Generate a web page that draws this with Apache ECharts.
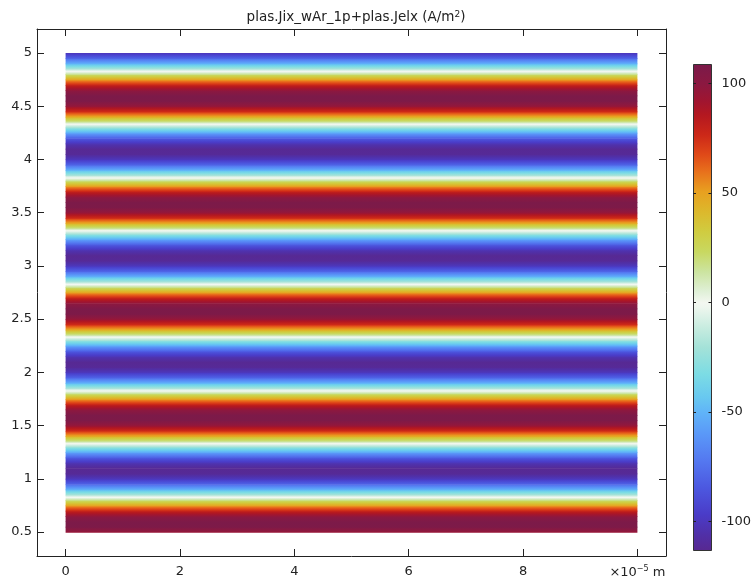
<!DOCTYPE html>
<html><head><meta charset="utf-8">
<script src="https://cdn.jsdelivr.net/npm/echarts@6/dist/echarts.min.js"></script>
<style>html,body{margin:0;padding:0;background:#fff}#c{width:754px;height:579px}</style>
</head><body><div id="c"></div>
<script>
// ---- data ----
const titleText = 'plas.Jix_wAr_1p+plas.Jelx (A/m{sup|2})';
const xTicks = [0, 2, 4, 6, 8, 10];
const yTicks = [0.5, 1, 1.5, 2, 2.5, 3, 3.5, 4, 4.5, 5];
const colorbarTicks = [-100, -50, 0, 50, 100];
const xExtent = [0, 10];            // domain width (x10^-5 m)
const xAxisRange = [-0.5, 10.5];
const yAxisRange = [0.275, 5.225];
const colorRange = [-113.1, 108.8]; // colour-bar limits (A/m^2)
const xUnitLabel = '\u00D710{sup|\u22125} m';

// sample heights along y (field is uniform along x)
const sampleY = [
  0.5, 0.55, 0.6, 0.65, 0.7, 0.75, 0.8, 0.85, 0.9, 0.95,
  1, 1.05, 1.1, 1.15, 1.2, 1.25, 1.3, 1.35, 1.4, 1.45,
  1.5, 1.55, 1.6, 1.65, 1.7, 1.75, 1.8, 1.85, 1.9, 1.95,
  2, 2.05, 2.1, 2.15, 2.2, 2.25, 2.3, 2.35, 2.4, 2.45,
  2.5, 2.55, 2.6, 2.65, 2.7, 2.75, 2.8, 2.85, 2.9, 2.95,
  3, 3.05, 3.1, 3.15, 3.2, 3.25, 3.3, 3.35, 3.4, 3.45,
  3.5, 3.55, 3.6, 3.65, 3.7, 3.75, 3.8, 3.85, 3.9, 3.95,
  4, 4.05, 4.1, 4.15, 4.2, 4.25, 4.3, 4.35, 4.4, 4.45,
  4.5, 4.55, 4.6, 4.65, 4.7, 4.75, 4.8, 4.85, 4.9, 4.95,
  5
];
// current density at each sample height (A/m^2)
const currentDensity = [
  95, 107, 108, 98, 79, 51, 19, -16, -49, -78,
  -99, -111, -112, -102, -83, -55, -23, 12, 45, 74,
  95, 107, 108, 98, 79, 51, 19, -16, -49, -78,
  -99, -111, -112, -102, -83, -55, -23, 12, 45, 74,
  95, 107, 108, 98, 79, 51, 19, -16, -49, -78,
  -99, -111, -112, -102, -83, -55, -23, 12, 45, 74,
  95, 107, 108, 98, 79, 51, 19, -16, -49, -78,
  -99, -111, -112, -102, -83, -55, -23, 12, 45, 74,
  95, 107, 108, 98, 79, 51, 19, -16, -49, -78,
  -101
];

// ---- colour map (value -> colour) ----
const cmapValues = [-113.1, -105.5, -96.4, -84.2, -72, -59.8, -49.9, -43.1, -32.4, -20.3, -11.1, -2, 0,
  5, 14.1, 23.3, 32.4, 41.5, 50.7, 59.8, 67.4, 76.5, 85.6, 91.9, 99.4, 108.8];
const cmapColors = ['#582890', '#5030a8', '#4a3cc8', '#4c58e0', '#5478f0', '#5a98f8', '#60b4f8', '#68c8f0', '#7cdce4', '#a4e2d8', '#c8ece0', '#eef6ee', '#f3f7f0',
  '#e0f0d8', '#cce4a0', '#c8d860', '#d0cc40', '#dcb82c', '#e8a020', '#e8701c', '#e04a18', '#cc2818', '#b41820', '#a01530', '#8c1840', '#7a1a4a'];

function hexToRgb(h) { return [parseInt(h.slice(1,3),16), parseInt(h.slice(3,5),16), parseInt(h.slice(5,7),16)]; }
const cmapRgb = cmapColors.map(hexToRgb);
function colorAt(v) {
  if (v <= cmapValues[0]) return cmapColors[0];
  const n = cmapValues.length;
  if (v >= cmapValues[n-1]) return cmapColors[n-1];
  for (let i = 0; i < n - 1; i++) {
    if (v >= cmapValues[i] && v <= cmapValues[i+1]) {
      const t = (v - cmapValues[i]) / (cmapValues[i+1] - cmapValues[i]);
      const a = cmapRgb[i], b = cmapRgb[i+1];
      return 'rgb(' + a.map((c, k) => Math.round(c + (b[k] - c) * t)).join(',') + ')';
    }
  }
  return cmapColors[n-1];
}
// vertical gradient from vTop (offset 0) to vBottom (offset 1)
function gradientBetween(vTop, vBottom) {
  const stops = [{offset: 0, color: colorAt(vTop)}];
  if (vTop !== vBottom) {
    const lo = Math.min(vTop, vBottom), hi = Math.max(vTop, vBottom);
    const mids = [];
    cmapValues.forEach(s => { if (s > lo && s < hi) mids.push({offset: (vTop - s) / (vTop - vBottom), color: colorAt(s)}); });
    mids.sort((a, b) => a.offset - b.offset);
    stops.push(...mids);
  }
  stops.push({offset: 1, color: colorAt(vBottom)});
  return {type: 'linear', x: 0, y: 0, x2: 0, y2: 1, colorStops: stops};
}

const bandData = [];
for (let i = 0; i < sampleY.length - 1; i++) {
  bandData.push([xExtent[0], sampleY[i], sampleY[i+1], currentDensity[i], currentDensity[i+1]]);
}

const FONT = 'DejaVu Sans';
const AXC = '#222';
const txt = {color: '#222', fontFamily: FONT, fontSize: 13};

const chart = echarts.init(document.getElementById('c'));
chart.setOption({
  animation: false,
  backgroundColor: '#fff',
  title: {
    text: titleText, left: 351, top: 5, textAlign: 'center',
    textStyle: {fontFamily: FONT, fontSize: 13.5, fontWeight: 'normal', color: '#222',
      rich: {sup: {fontFamily: FONT, fontSize: 9, color: '#222', verticalAlign: 'top', padding: [0, 0, 6, 0]}}}
  },
  grid: [
    {left: 37, top: 29, width: 629, height: 527, containLabel: false},
    {left: 693, top: 64, width: 20, height: 486, containLabel: false}
  ],
  xAxis: [
    {gridIndex: 0, type: 'value', position: 'bottom', min: xAxisRange[0], max: xAxisRange[1],
      axisLine: {show: true, onZero: false, lineStyle: {color: AXC, width: 1}},
      axisTick: {show: true, inside: true, length: 7, customValues: xTicks, lineStyle: {color: AXC}},
      axisLabel: {show: true, margin: 9, customValues: xTicks, ...txt,
        formatter: v => (v === 10 ? xUnitLabel : String(v)),
        rich: {sup: {fontSize: 8, fontFamily: FONT, color: '#222', verticalAlign: 'top', padding: [0, 0, 7, 0]}}},
      splitLine: {show: false}},
    {gridIndex: 0, type: 'value', position: 'top', min: xAxisRange[0], max: xAxisRange[1],
      axisLine: {show: true, onZero: false, lineStyle: {color: AXC, width: 1}},
      axisTick: {show: true, inside: true, length: 7, customValues: xTicks, lineStyle: {color: AXC}},
      axisLabel: {show: false}, splitLine: {show: false}},
    {gridIndex: 1, type: 'value', min: 0, max: 1, show: false}
  ],
  yAxis: [
    {gridIndex: 0, type: 'value', position: 'left', min: yAxisRange[0], max: yAxisRange[1],
      axisLine: {show: true, onZero: false, lineStyle: {color: AXC, width: 1}},
      axisTick: {show: true, inside: true, length: 7, customValues: yTicks, lineStyle: {color: AXC}},
      axisLabel: {show: true, margin: 5, customValues: yTicks, ...txt},
      splitLine: {show: false}},
    {gridIndex: 0, type: 'value', position: 'right', min: yAxisRange[0], max: yAxisRange[1],
      axisLine: {show: true, onZero: false, lineStyle: {color: AXC, width: 1}},
      axisTick: {show: true, inside: true, length: 7, customValues: yTicks, lineStyle: {color: AXC}},
      axisLabel: {show: false}, splitLine: {show: false}},
    {gridIndex: 1, type: 'value', position: 'left', min: colorRange[0], max: colorRange[1],
      axisLine: {show: false},
      axisTick: {show: true, inside: true, length: 3, customValues: colorbarTicks, lineStyle: {color: AXC}},
      axisLabel: {show: false}, splitLine: {show: false}, z: 10},
    {gridIndex: 1, type: 'value', position: 'right', min: colorRange[0], max: colorRange[1],
      axisLine: {show: false},
      axisTick: {show: true, inside: true, length: 3, customValues: colorbarTicks, lineStyle: {color: AXC}},
      axisLabel: {show: true, margin: 10, customValues: colorbarTicks, ...txt},
      splitLine: {show: false}, z: 10}
  ],
  series: [
    {
      type: 'custom', xAxisIndex: 0, yAxisIndex: 0,
      data: bandData,
      encode: {x: 0, y: [1, 2]},
      renderItem(params, api) {
        const y0 = api.value(1), y1 = api.value(2), v0 = api.value(3), v1 = api.value(4);
        const pTop = api.coord([xExtent[0], y1]);
        const pBot = api.coord([xExtent[1], y0]);
        return {
          type: 'rect',
          shape: {x: pTop[0], y: pTop[1], width: pBot[0] - pTop[0], height: pBot[1] - pTop[1] + 0.7},
          style: {fill: gradientBetween(v1, v0)}
        };
      },
      silent: true
    },
    {
      type: 'custom', xAxisIndex: 2, yAxisIndex: 2,
      data: [[0, colorRange[0], colorRange[1]]],
      encode: {x: 0, y: [1, 2]},
      renderItem(params, api) {
        const lo = api.value(1), hi = api.value(2);
        const pTop = api.coord([0, hi]);
        const pBot = api.coord([1, lo]);
        const stops = [];
        cmapValues.forEach(s => stops.push({offset: (hi - s) / (hi - lo), color: colorAt(s)}));
        stops.sort((a, b) => a.offset - b.offset);
        return {
          type: 'rect',
          shape: {x: Math.round(pTop[0]) + 0.5, y: Math.round(pTop[1]) + 0.5,
                  width: Math.round(pBot[0] - pTop[0]), height: Math.round(pBot[1] - pTop[1])},
          style: {fill: {type: 'linear', x: 0, y: 0, x2: 0, y2: 1, colorStops: stops}, stroke: '#333', lineWidth: 1}
        };
      },
      silent: true
    }
  ]
});
</script>
</body></html>
